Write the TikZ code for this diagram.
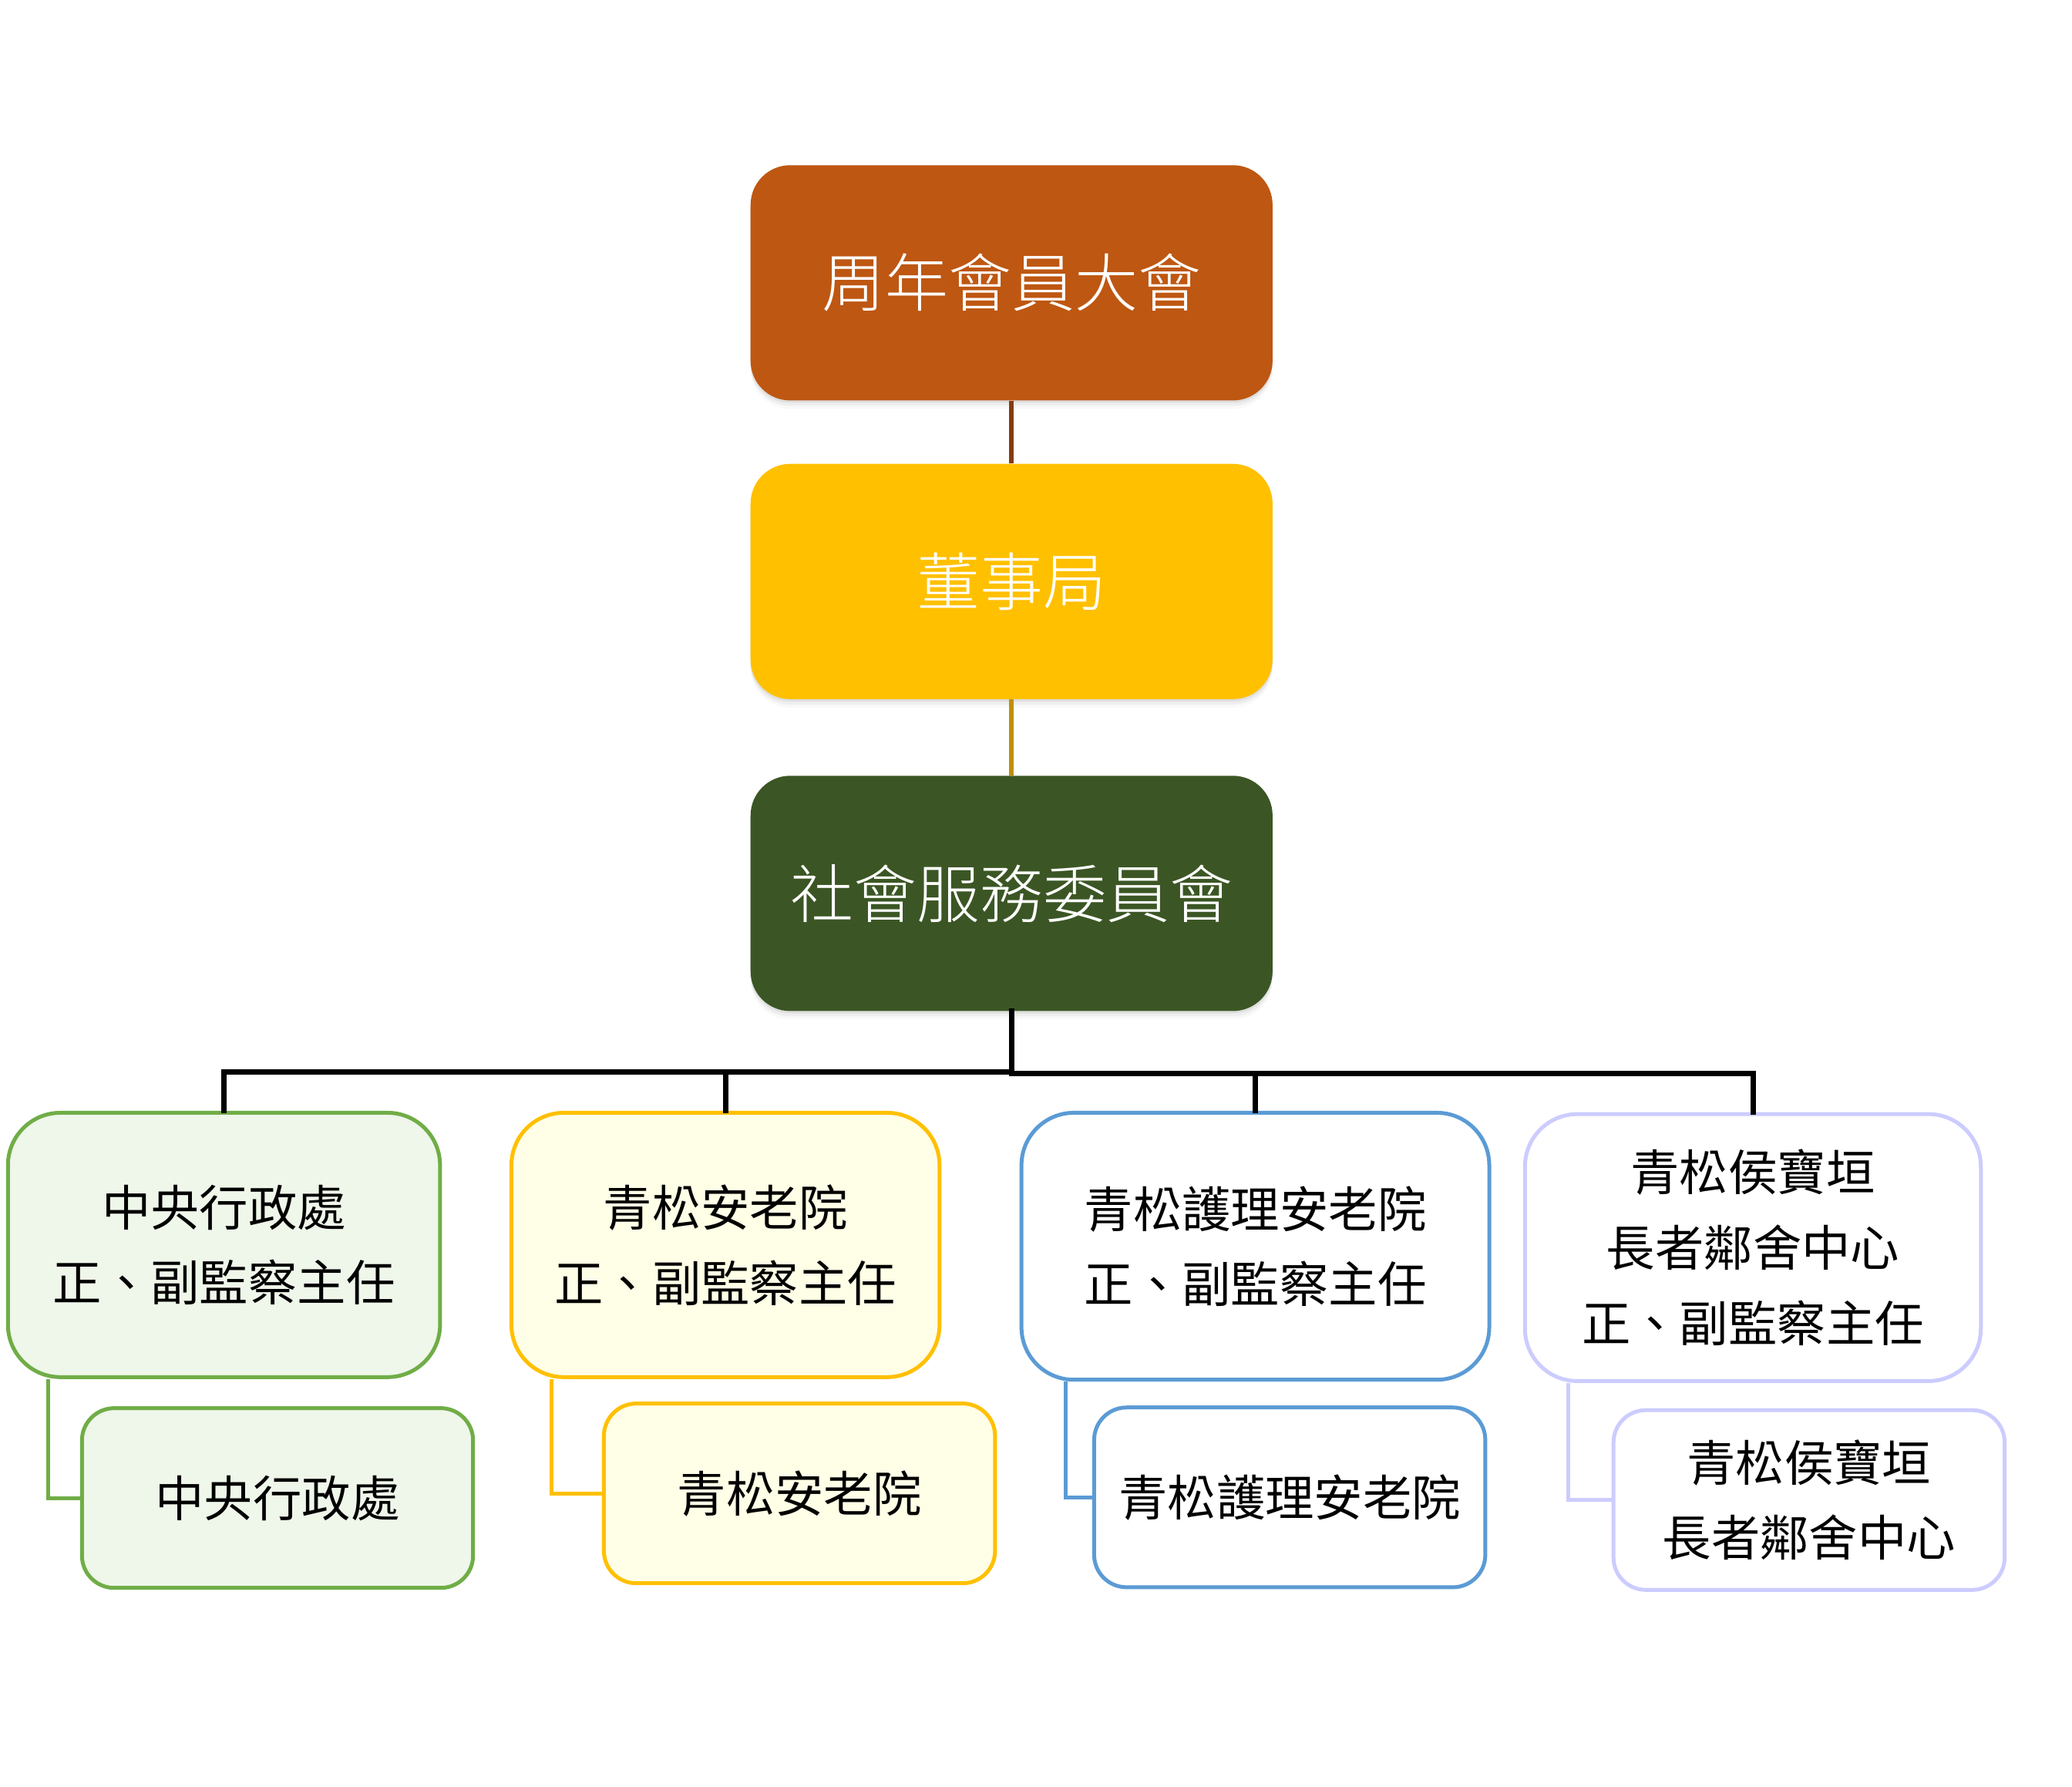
\documentclass[tikz,border=0pt]{standalone}
\usepackage{fontspec}
\setmainfont{Noto Sans CJK TC}
\IfFontExistsTF{Noto Sans CJK TC Light}
  {\newfontfamily\lightfont{Noto Sans CJK TC Light}}
  {\newfontfamily\lightfont{Noto Sans CJK TC}}
\usetikzlibrary{shadows,calc}
\def\pu{0.8571pt}
\definecolor{topfill}{HTML}{BE5712}
\definecolor{boardfill}{HTML}{FFC000}
\definecolor{sscfill}{HTML}{3B5624}
\definecolor{lineone}{HTML}{843C0C}
\definecolor{linetwo}{HTML}{BF9000}
\definecolor{gstroke}{HTML}{70AD47}
\definecolor{gfill}{HTML}{EFF6EA}
\definecolor{ystroke}{HTML}{FFC000}
\definecolor{yfill}{HTML}{FFFEE6}
\definecolor{bstroke}{HTML}{5B9BD5}
\definecolor{lstroke}{HTML}{CCCCFF}
\begin{document}
\begin{tikzpicture}[x=\pu,y=-\pu,
  topbox/.style={rounded corners=25.7pt, minimum width=395*\pu, minimum height=178*\pu,
     text=white, inner sep=0pt, font=\lightfont\fontsize{41}{50}\selectfont,
     drop shadow={shadow xshift=0pt, shadow yshift=-1.5pt, opacity=0.14},
     drop shadow={shadow xshift=0pt, shadow yshift=-3.5pt, opacity=0.09},
     drop shadow={shadow xshift=0pt, shadow yshift=-5.5pt, opacity=0.05}},
  lvtwo/.style={rounded corners=34pt, line width=2.5pt, align=center, inner sep=0pt,
     font=\fontsize{31.7}{48.9}\selectfont},
  lvthree/.style={rounded corners=21pt, line width=2.5pt, align=center, inner sep=0pt,
     minimum width=296*\pu, minimum height=136*\pu, font=\fontsize{31.7}{48.9}\selectfont},
  greenbox/.style={draw=gstroke, fill=gfill},
  yellowbox/.style={draw=ystroke, fill=yfill},
  bluebox/.style={draw=bstroke, fill=white},
  lavbox/.style={draw=lstroke, fill=white},
  barline/.style={line width=3.5pt, black, line cap=rect},
  chainline/.style={line width=3pt},
  elbow/.style={line width=2.5pt}
]
\useasboundingbox (0,0) rectangle (1568,1352);

% top chain
\node[topbox, fill=topfill] (top) at (765.5,214) {周年會員大會};
\node[topbox, fill=boardfill] (board) at (765.5,440) {董事局};
\node[topbox, fill=sscfill] (ssc) at (765.5,676) {社會服務委員會};

% level 2
\node[lvtwo, greenbox, minimum width=327*\pu, minimum height=200*\pu] (a1) at (169.5,942) {中央行政處\\正、副監察主任};
\node[lvtwo, yellowbox, minimum width=324*\pu, minimum height=200*\pu] (a2) at (549,942) {青松安老院\\正、副監察主任};
\node[lvtwo, bluebox, minimum width=354*\pu, minimum height=202*\pu] (a3) at (950,943) {青松護理安老院\\正、副監察主任};
\node[lvtwo, lavbox, minimum width=345*\pu, minimum height=202*\pu] (a4) at (1326.5,944) {青松侯寶垣\\長者鄰舍中心\\正、副監察主任};

% level 3
\node[lvthree, greenbox] (b1) at (210,1133.5) {中央行政處};
\node[lvthree, yellowbox] (b2) at (605,1130) {青松安老院};
\node[lvthree, bluebox] (b3) at (976,1133) {青松護理安老院};
\node[lvthree, lavbox] (b4) at (1369,1135) {青松侯寶垣\\長者鄰舍中心};

% connectors top chain
\draw[lineone, chainline] (top.south) -- (board.north);
\draw[linetwo, chainline] (board.south) -- (ssc.north);

% bar
\coordinate (hubL) at ($(ssc.south)+(0,46)$);
\coordinate (hubR) at ($(ssc.south)+(0,47)$);
\draw[barline] (ssc.south) -- (hubR);
\draw[barline] (a1.north) |- (hubL);
\draw[barline] (a2.north) |- (hubL);
\draw[barline] (a3.north) |- (hubR);
\draw[barline] (a4.north) |- (hubR);

% elbows
\draw[elbow, gstroke] ($(a1.south west)+(32,0)$) |- (b1.west);
\draw[elbow, ystroke] ($(a2.south west)+(32,0)$) |- (b2.west);
\draw[elbow, bstroke] ($(a3.south west)+(35,0)$) |- (b3.west);
\draw[elbow, lstroke] ($(a4.south west)+(34,0)$) |- (b4.west);
\end{tikzpicture}
\end{document}
